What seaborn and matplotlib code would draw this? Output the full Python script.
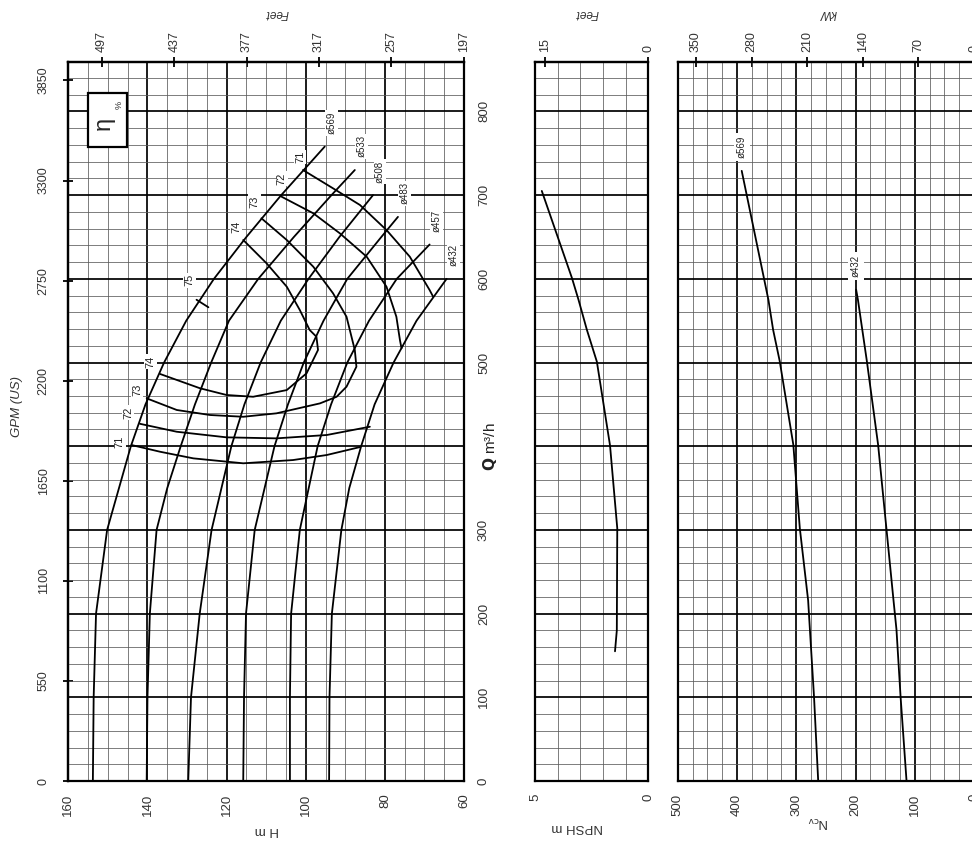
import matplotlib
matplotlib.use('Agg')
import numpy as np
import pandas as pd
import matplotlib.pyplot as plt
import seaborn as sns
from matplotlib.ticker import MultipleLocator, FixedLocator, FuncFormatter, NullLocator
from matplotlib.patches import Rectangle

sns.set_theme(style='white')
plt.rcParams['font.family'] = ['Liberation Sans', 'DejaVu Sans']
plt.rcParams['mathtext.fontset'] = 'dejavusans'

# ---------------- data ----------------
# H-Q curves per impeller diameter (Q m3/h, H m)
q_569 = [0, 100, 200, 300, 400, 450, 500, 550, 600, 650, 700, 758]
h_569 = [153.8, 153.6, 153.0, 150.2, 144.2, 140.5, 135.8, 130.2, 123.2, 115.0, 106.2, 95.2]
q_533 = [0, 100, 200, 300, 350, 400, 450, 500, 550, 600, 650, 700, 730]
h_533 = [140.2, 140.0, 139.4, 137.7, 135.0, 131.6, 128.0, 123.9, 119.4, 112.0, 103.0, 93.5, 87.6]
q_508 = [0, 100, 200, 300, 400, 450, 500, 550, 600, 650, 700]
h_508 = [129.7, 129.0, 126.8, 123.8, 118.8, 115.5, 111.4, 106.3, 99.3, 91.5, 83.0]
q_483 = [0, 100, 200, 300, 400, 450, 500, 550, 600, 650, 674]
h_483 = [115.8, 115.6, 115.1, 112.9, 107.9, 104.5, 100.5, 95.5, 89.5, 80.9, 76.7]
q_457 = [0, 100, 200, 300, 400, 450, 500, 550, 600, 641]
h_457 = [104.0, 104.0, 103.7, 101.5, 97.0, 93.6, 89.5, 84.0, 77.0, 68.7]
q_432 = [0, 100, 200, 300, 350, 400, 450, 500, 550, 600]
h_432 = [94.1, 94.0, 93.4, 91.0, 89.0, 86.0, 82.6, 77.8, 72.0, 64.4]
diameters = ['ø569', 'ø533', 'ø508', 'ø483', 'ø457', 'ø432']

# iso-efficiency lines (H m, Q m3/h)
eff74_h = [136.8, 126.7, 120.0, 113.3, 104.8, 99.8, 96.9, 97.3, 99.0, 101.5, 104.8, 109.9, 115.8]
eff74_q = [486.3, 469.2, 461.2, 459.1, 467.1, 487.1, 515.0, 530.8, 538.8, 562.7, 590.6, 618.5, 646.4]
eff73_h = [140.2, 132.6, 124.2, 115.8, 107.4, 96.4, 92.2, 89.7, 87.2, 87.6, 89.7, 93.1, 98.1, 104.8, 111.2]
eff73_q = [457.2, 443.3, 437.3, 435.2, 439.3, 451.2, 459.1, 471.1, 495.0, 514.9, 554.7, 582.7, 614.5, 646.4, 672.3]
eff72_low_h = [141.9, 132.6, 120.0, 107.4, 94.7, 83.8]
eff72_low_q = [426.8, 417.3, 410.6, 409.4, 413.4, 423.3]
eff72_up_h = [106.1, 98.1, 91.4, 84.6, 79.6, 77.1, 76.2, 75.8]
eff72_up_q = [698.1, 678.3, 654.4, 626.4, 590.6, 554.7, 526.9, 517.0]
eff71_low_h = [144.0, 136.8, 128.4, 115.8, 103.2, 94.7, 86.3]
eff71_low_q = [401.4, 393.4, 385.5, 379.6, 383.5, 389.5, 399.0]
eff71_up_h = [100.7, 93.1, 86.3, 79.6, 73.7, 68.7, 67.8]
eff71_up_q = [730.0, 708.1, 688.2, 658.3, 626.4, 586.6, 578.6]
eff75_h = [127.6, 124.6]
eff75_q = [575.0, 566.0]

# NPSH required
npsh_q = [155, 180, 302, 401, 501, 539, 575, 601, 705]
npsh_m = [1.47, 1.39, 1.37, 1.69, 2.27, 2.71, 3.08, 3.37, 4.70]

# Power (cv)
pw569_q = [0, 100, 181, 216, 302, 402, 502, 539, 575, 729]
pw569_n = [263, 270, 277, 280, 294, 305, 328, 339, 347, 392]
pw432_q = [0, 100, 181, 216, 302, 402, 502, 575, 587]
pw432_n = [114, 124, 131, 136, 148, 162, 181, 196, 199]

q_ticks = [0, 100, 200, 300, 400, 500, 600, 700, 800]
gpm_ticks = [0, 550, 1100, 1650, 2200, 2750, 3300, 3850]
feet_ticks = [497, 437, 377, 317, 257, 197]
npsh_feet_ticks = [15, 0]
kw_ticks = [350, 280, 210, 140, 70, 0]

M_TO_FT = 3.28
M3H_TO_GPM = 4.6
CV_TO_KW = 0.7457

# ---------------- tables ----------------
hq_q = [q_569, q_533, q_508, q_483, q_457, q_432]
hq_h = [h_569, h_533, h_508, h_483, h_457, h_432]
df_hq = pd.concat([pd.DataFrame({'H': h, 'Q': q, 'curve': d})
                   for d, h, q in zip(diameters, hq_h, hq_q)], ignore_index=True)
eff_segments = [('74', eff74_h, eff74_q), ('73', eff73_h, eff73_q),
                ('72a', eff72_low_h, eff72_low_q), ('72b', eff72_up_h, eff72_up_q),
                ('71a', eff71_low_h, eff71_low_q), ('71b', eff71_up_h, eff71_up_q),
                ('75', eff75_h, eff75_q)]
df_eff = pd.concat([pd.DataFrame({'H': h, 'Q': q, 'seg': s}) for s, h, q in eff_segments],
                   ignore_index=True)
df_npsh = pd.DataFrame({'NPSH': npsh_m, 'Q': npsh_q})
df_pw = pd.concat([pd.DataFrame({'N': pw569_n, 'Q': pw569_q, 'curve': 'ø569'}),
                   pd.DataFrame({'N': pw432_n, 'Q': pw432_q, 'curve': 'ø432'})], ignore_index=True)

# ---------------- figure ----------------
fig = plt.figure(figsize=(9.72, 8.44), dpi=100)
bottom, height = 0.0746, 0.8519
ax1 = fig.add_axes([0.0703, bottom, 0.4071, height])
ax2 = fig.add_axes([0.5504, bottom, 0.1166, height])
ax3 = fig.add_axes([0.6972, bottom, 0.3050, height])

TXT = '#333333'
LBL = 9.5
LBL2 = 9

def style_grid(ax):
    ax.set_axisbelow(True)
    ax.grid(True, which='major', color='black', lw=1.25)
    ax.grid(True, which='minor', color='#5a5a5a', lw=0.55)
    for sp in ax.spines.values():
        sp.set_color('black')
        sp.set_linewidth(1.6)
    ax.yaxis.set_major_locator(MultipleLocator(100))
    ax.yaxis.set_minor_locator(MultipleLocator(20))
    ax.set_ylim(0, 859)
    ax.tick_params(which='both', length=0)
    ax.set_ylabel('')
    ax.set_xlabel('')

# ---- H-Q panel ----
sns.lineplot(data=df_hq, x='H', y='Q', units='curve', estimator=None, sort=False,
             color='black', lw=1.3, ax=ax1, legend=False)
sns.lineplot(data=df_eff, x='H', y='Q', units='seg', estimator=None, sort=False,
             color='black', lw=1.3, ax=ax1, legend=False)
style_grid(ax1)
ax1.set_xlim(160, 60)
ax1.xaxis.set_major_locator(MultipleLocator(20))
ax1.xaxis.set_minor_locator(MultipleLocator(5))
ax1.yaxis.tick_right()
ax1.yaxis.set_major_formatter(FuncFormatter(lambda v, p: '' if abs(v - 400) < 1 else f'{v:.0f}'))
ax1.tick_params(axis='y', which='major', right=True, labelright=True, left=False, labelleft=False,
                labelrotation=90, pad=10, labelsize=LBL, labelcolor=TXT)
ax1.tick_params(axis='x', which='major', bottom=True, labelbottom=True,
                labelrotation=90, pad=9, labelsize=LBL, labelcolor=TXT)
for t in ax1.get_yticklabels():
    t.set_va('center')

# diameter labels at curve ends
for d, h, q in zip(diameters, hq_h, hq_q):
    ax1.annotate(d, xy=(h[-1], q[-1]), xytext=(5, 17), textcoords='offset points',
                 rotation=90, ha='center', va='center', fontsize=7, color='#222',
                 bbox=dict(boxstyle='square,pad=0.15', fc='white', ec='none'),
                 annotation_clip=False)

# efficiency labels
eff_labels = [('71', eff71_up_h[0], eff71_up_q[0], (-2, 9.5)),
              ('72', eff72_up_h[0], eff72_up_q[0], (0, 13)),
              ('73', eff73_h[-1], eff73_q[-1], (-5, 12)),
              ('74', eff74_h[-1], eff74_q[-1], (-5, 9.5)),
              ('74', eff74_h[0], eff74_q[0], (-7, 9)),
              ('73', eff73_h[0], eff73_q[0], (-7, 6)),
              ('72', eff72_low_h[0], eff72_low_q[0], (-8.5, 8)),
              ('71', eff71_low_h[0], eff71_low_q[0], (-8.5, 2.5)),
              ('75', eff75_h[0], eff75_q[0], (-5, 14))]
for txt, h, q, off in eff_labels:
    ax1.annotate(txt, xy=(h, q), xytext=off, textcoords='offset points', rotation=90,
                 ha='center', va='center', fontsize=8, color='#222',
                 bbox=dict(boxstyle='square,pad=0.1', fc='white', ec='none'))

# eta box
ax1.add_patch(Rectangle((0.0498, 0.8818), 0.0985, 0.0751, transform=ax1.transAxes,
                        fc='white', ec='black', lw=1.6, zorder=5))
ax1.text(0.0890, 0.9150, 'η', transform=ax1.transAxes, rotation=90, fontsize=17,
         ha='center', va='center', zorder=6)
ax1.text(0.1290, 0.9400, '%', transform=ax1.transAxes, rotation=90, fontsize=6.5,
         ha='center', va='center', zorder=6)

# secondary axes on H-Q panel
sec_ft = ax1.secondary_xaxis('top', functions=(lambda h: h * M_TO_FT, lambda f: f / M_TO_FT))
sec_ft.xaxis.set_major_locator(FixedLocator(feet_ticks))
sec_ft.xaxis.set_minor_locator(NullLocator())
sec_ft.tick_params(axis='x', which='major', top=True, labeltop=True, direction='inout',
                   length=7, width=1.3, color='black', labelrotation=90, pad=4,
                   labelsize=LBL2, labelcolor=TXT)
sec_gpm = ax1.secondary_yaxis('left', functions=(lambda q: q * M3H_TO_GPM, lambda g: g / M3H_TO_GPM))
sec_gpm.yaxis.set_major_locator(FixedLocator(gpm_ticks))
sec_gpm.yaxis.set_minor_locator(NullLocator())
sec_gpm.tick_params(axis='y', which='major', left=True, labelleft=True, direction='inout',
                    length=7, width=1.3, color='black', labelrotation=90, pad=10,
                    labelsize=LBL2, labelcolor=TXT)
for t in sec_gpm.get_yticklabels():
    t.set_va('center')
for s in list(sec_ft.spines.values()) + list(sec_gpm.spines.values()):
    s.set_linewidth(1.6)
    s.set_color('black')

ax1.text(0.527, 1.068, 'Feet', transform=ax1.transAxes, rotation=180, ha='center', va='center',
         fontsize=8.5, style='italic', color=TXT)
ax1.text(-0.130, 0.5206, 'GPM (US)', transform=ax1.transAxes, rotation=90, ha='center',
         va='center', fontsize=9.5, style='italic', color=TXT)
ax1.text(0.502, -0.068, 'H m', transform=ax1.transAxes, rotation=180, ha='center', va='center',
         fontsize=9.5, color=TXT)
ax1.text(1.066, 400, r'$\mathbf{Q}$ m³/h', transform=ax1.get_yaxis_transform(), rotation=90,
         ha='center', va='center', fontsize=11, color='#222')

# ---- NPSH panel ----
sns.lineplot(data=df_npsh, x='NPSH', y='Q', estimator=None, sort=False, color='black', lw=1.3,
             ax=ax2, legend=False)
style_grid(ax2)
ax2.set_xlim(5, 0)
ax2.xaxis.set_major_locator(FixedLocator([0, 5]))
ax2.xaxis.set_minor_locator(MultipleLocator(1))
ax2.grid(True, which='major', axis='x', color='#5a5a5a', lw=0.55)
ax2.tick_params(axis='y', which='both', left=False, labelleft=False, right=False, labelright=False)
ax2.tick_params(axis='x', which='major', bottom=True, labelbottom=True, labelrotation=90,
                pad=9, labelsize=LBL, labelcolor=TXT)
sec_nft = ax2.secondary_xaxis('top', functions=(lambda h: h * M_TO_FT, lambda f: f / M_TO_FT))
sec_nft.xaxis.set_major_locator(FixedLocator(npsh_feet_ticks))
sec_nft.xaxis.set_minor_locator(NullLocator())
sec_nft.tick_params(axis='x', which='major', top=True, labeltop=True, direction='inout',
                    length=7, width=1.3, color='black', labelrotation=90, pad=4,
                    labelsize=LBL2, labelcolor=TXT)
for s in sec_nft.spines.values():
    s.set_linewidth(1.6)
ax2.text(0.456, 1.068, 'Feet', transform=ax2.transAxes, rotation=180, ha='center', va='center',
         fontsize=8.5, style='italic', color=TXT)
ax2.text(0.37, -0.064, 'NPSH m', transform=ax2.transAxes, rotation=180, ha='center', va='center',
         fontsize=9.5, color=TXT)

# ---- Power panel ----
sns.lineplot(data=df_pw, x='N', y='Q', units='curve', estimator=None, sort=False, color='black',
             lw=1.3, ax=ax3, legend=False)
style_grid(ax3)
ax3.set_xlim(500, 0)
ax3.xaxis.set_major_locator(MultipleLocator(100))
ax3.xaxis.set_minor_locator(MultipleLocator(25))
ax3.tick_params(axis='y', which='both', left=False, labelleft=False, right=False, labelright=False)
ax3.tick_params(axis='x', which='major', bottom=True, labelbottom=True, labelrotation=90,
                pad=9, labelsize=LBL, labelcolor=TXT)
for name, n, q in [('ø569', pw569_n, pw569_q), ('ø432', pw432_n, pw432_q)]:
    ax3.annotate(name, xy=(n[-1], q[-1]), xytext=(0, 17), textcoords='offset points',
                 rotation=90, ha='center', va='center', fontsize=7, color='#222',
                 bbox=dict(boxstyle='square,pad=0.3', fc='white', ec='none'))
sec_kw = ax3.secondary_xaxis('top', functions=(lambda n: n * CV_TO_KW, lambda k: k / CV_TO_KW))
sec_kw.xaxis.set_major_locator(FixedLocator(kw_ticks))
sec_kw.xaxis.set_minor_locator(NullLocator())
sec_kw.tick_params(axis='x', which='major', top=True, labeltop=True, direction='inout',
                   length=7, width=1.3, color='black', labelrotation=90, pad=4,
                   labelsize=LBL2, labelcolor=TXT)
for s in sec_kw.spines.values():
    s.set_linewidth(1.6)
ax3.text(0.507, 1.068, 'kW', transform=ax3.transAxes, rotation=180, ha='center', va='center',
         fontsize=8.5, style='italic', color=TXT)
ax3.text(0.473, -0.057, r'N$_{\mathrm{cv}}$', transform=ax3.transAxes, rotation=180,
         ha='center', va='center', fontsize=9.5, color=TXT)

fig.savefig('out.png', dpi=100, facecolor='white')
